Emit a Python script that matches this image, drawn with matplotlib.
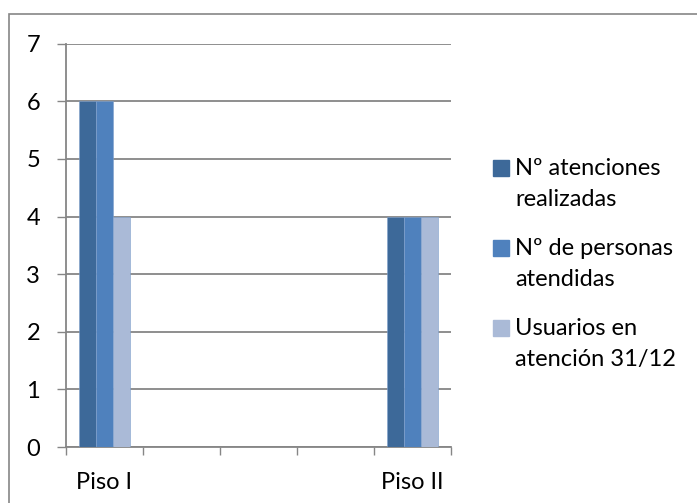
import numpy as np
import matplotlib
matplotlib.use("Agg")
import matplotlib.pyplot as plt
from matplotlib.patches import Rectangle

# Categorías del eje X (las intermedias están vacías)
categorias = ["Piso I", "", "", "", "Piso II"]
series = ["Nº atenciones\nrealizadas", "Nº de personas\natendidas", "Usuarios en\natención 31/12"]
atenciones = [6, np.nan, np.nan, np.nan, 4]
personas = [6, np.nan, np.nan, np.nan, 4]
usuarios = [4, np.nan, np.nan, np.nan, 4]
colores = ["#3D6999", "#4F81BD", "#AABAD7"]

plt.rcParams["font.family"] = ["Lato", "DejaVu Sans"]
fs = 17

fig = plt.figure(figsize=(6.97, 5.03), dpi=100)
ax = fig.add_axes([0.0944, 0.1113, 0.5526, 0.8017])

x = np.arange(len(categorias))
ancho = 0.22
for i, (vals, col) in enumerate(zip([atenciones, personas, usuarios], colores)):
    ax.bar(x + (i - 1) * ancho, vals, ancho, color=col,
           edgecolor="#7FA0CC", linewidth=0.4, zorder=3)

ax.set_xlim(-0.5, len(categorias) - 0.5)
ax.set_ylim(0, 7)
ax.set_yticks(range(0, 8))

# marcas en los límites de categoría, etiquetas en el centro
ax.set_xticks(np.arange(-0.5, len(categorias)))
ax.set_xticklabels([])
ax.set_xticks(x, minor=True)
ax.set_xticklabels(categorias, minor=True)
ax.tick_params(axis="x", which="major", length=6, width=1, color="#868686", direction="out")
ax.tick_params(axis="x", which="minor", length=0, pad=18, labelsize=fs)
ax.tick_params(axis="y", length=6.5, width=1, color="#868686", pad=12, labelsize=fs)

ax.grid(axis="y", color="#868686", linewidth=1.3, zorder=0)
for s in ["top", "right"]:
    ax.spines[s].set_visible(False)
for s in ["left", "bottom"]:
    ax.spines[s].set_color("#868686")
    ax.spines[s].set_linewidth(1.3)

# leyenda: cuadro alineado con la primera línea de cada etiqueta
W, H = 697, 503
for i, (nombre, col) in enumerate(zip(series, colores)):
    yc = 168 + 80 * i
    fig.patches.append(Rectangle((493 / W, 1 - (yc + 8) / H), 16 / W, 16 / H,
                                 transform=fig.transFigure, color=col))
    fig.text(515 / W, 1 - (yc - 10) / H, nombre, fontsize=fs, va="top", ha="left",
             linespacing=1.6)

# marco exterior del gráfico
fig.patches.append(Rectangle((9 / W, -0.1), 1.2, 1.0716, transform=fig.transFigure,
                             fill=False, edgecolor="#868686", linewidth=1.2))

fig.savefig("out.png", dpi=100)
